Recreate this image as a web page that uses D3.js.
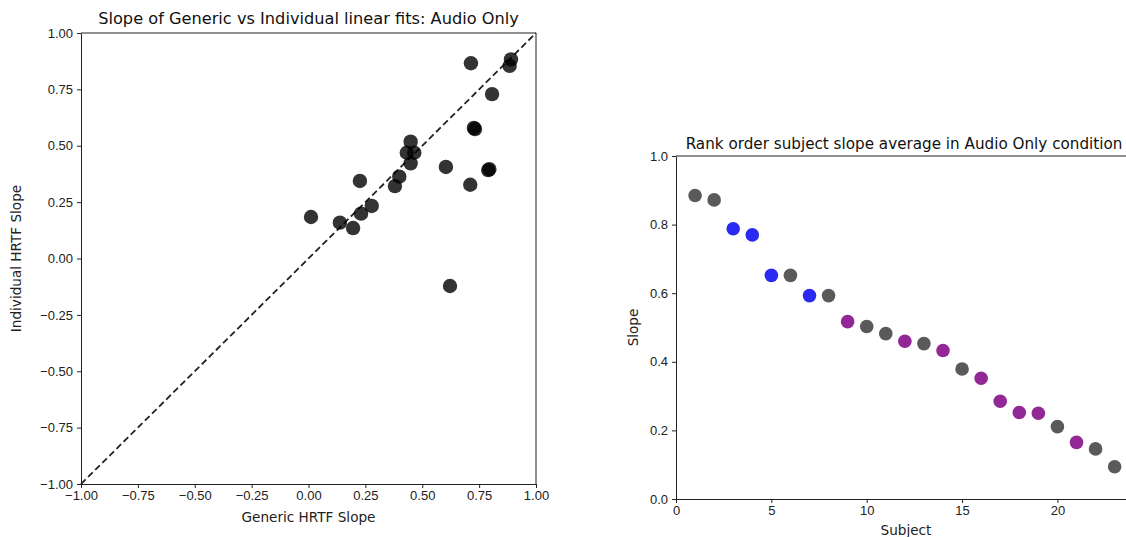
<!DOCTYPE html>
<html>
<head>
<meta charset="utf-8">
<script src="https://cdn.jsdelivr.net/npm/d3@7"></script>
<style>
  body { margin: 0; background: #fff; }
  svg { display: block; font-family: "DejaVu Sans", sans-serif; }
  .tick text { font-size: 13px; fill: #222; }
  .tick line, .domain { stroke: #222; }
</style>
</head>
<body>
<svg id="chart" width="1126" height="537"></svg>
<script>
// left panel: generic vs individual HRTF slope, one point per subject
const genericSlope = [0.714, 0.890, 0.884, 0.807, 0.727, 0.732, 0.449, 0.432, 0.465, 0.449, 0.604, 0.795, 0.790, 0.711, 0.226, 0.399, 0.380, 0.278, 0.231, 0.138, 0.196, 0.011, 0.622]
const individualSlope = [0.866, 0.883, 0.854, 0.729, 0.579, 0.574, 0.518, 0.469, 0.469, 0.422, 0.406, 0.396, 0.392, 0.327, 0.344, 0.363, 0.321, 0.233, 0.199, 0.159, 0.135, 0.184, -0.122]
const leftTicks = [-1, -0.75, -0.5, -0.25, 0, 0.25, 0.5, 0.75, 1]

// right panel: rank-ordered subject slope averages
const subjects = d3.range(1, 24)
const slopeAvg = [0.885, 0.872, 0.788, 0.770, 0.652, 0.652, 0.593, 0.593, 0.517, 0.503, 0.482, 0.460, 0.453, 0.433, 0.379, 0.352, 0.285, 0.252, 0.250, 0.211, 0.165, 0.146, 0.094]
const subjectGroup = ['gray', 'gray', 'blue', 'blue', 'blue', 'gray', 'blue', 'gray', 'purple', 'gray', 'gray', 'purple', 'gray', 'purple', 'gray', 'purple', 'purple', 'purple', 'purple', 'gray', 'purple', 'gray', 'gray']
const rightXTicks = [0, 5, 10, 15, 20]
const rightYTicks = [0, 0.2, 0.4, 0.6, 0.8, 1.0]

const groupColor = { gray: '#5a5a5a', blue: '#2a2af2', purple: '#922896' }
const minus = s => s.replace('-', '\u2212')

const svg = d3.select('#chart')

// ---------- left scatter ----------
const x1 = d3.scaleLinear().domain([-1, 1]).range([81, 536])
const y1 = d3.scaleLinear().domain([-1, 1]).range([484, 33])

const fmt2 = d => minus(d3.format('.2f')(d))

svg.append('g')
    .attr('transform', `translate(0,${y1(-1)})`)
    .call(d3.axisBottom(x1).tickValues(leftTicks).tickFormat(fmt2).tickSize(4).tickSizeOuter(0).tickPadding(3))
svg.append('g')
    .attr('transform', `translate(${x1(-1)},0)`)
    .call(d3.axisLeft(y1).tickValues(leftTicks).tickFormat(fmt2).tickSize(4).tickSizeOuter(0).tickPadding(4))

// top and right spines
svg.append('line').attr('x1', x1(-1)).attr('x2', x1(1)).attr('y1', y1(1)).attr('y2', y1(1)).attr('stroke', '#222')
svg.append('line').attr('x1', x1(1)).attr('x2', x1(1)).attr('y1', y1(1)).attr('y2', y1(-1)).attr('stroke', '#222')

// identity line
svg.append('line')
    .attr('x1', x1(-1)).attr('y1', y1(-1))
    .attr('x2', x1(1)).attr('y2', y1(1))
    .attr('stroke', '#222')
    .attr('stroke-width', 1.8)
    .attr('stroke-dasharray', '6.5,3.5')

svg.append('g').selectAll('circle')
    .data(genericSlope)
    .join('circle')
    .attr('cx', d => x1(d))
    .attr('cy', (d, i) => y1(individualSlope[i]))
    .attr('r', 7.2)
    .attr('fill', '#000')
    .attr('fill-opacity', 0.8)

svg.append('text')
    .attr('x', (x1(-1) + x1(1)) / 2).attr('y', 24)
    .attr('text-anchor', 'middle').attr('font-size', 16.2).attr('fill', '#111')
    .text('Slope of Generic vs Individual linear fits: Audio Only')
svg.append('text')
    .attr('x', (x1(-1) + x1(1)) / 2).attr('y', 522)
    .attr('text-anchor', 'middle').attr('font-size', 13.6).attr('fill', '#222')
    .text('Generic HRTF Slope')
svg.append('text')
    .attr('transform', `translate(21,${(y1(-1) + y1(1)) / 2}) rotate(-90)`)
    .attr('text-anchor', 'middle').attr('font-size', 13.6).attr('fill', '#222')
    .text('Individual HRTF Slope')

// ---------- right rank plot ----------
const xMax = 24.12
const x2 = d3.scaleLinear().domain([0, xMax]).range([676, 1136])
const y2 = d3.scaleLinear().domain([0, 1]).range([499, 156])

svg.append('g')
    .attr('transform', `translate(0,${y2(0)})`)
    .call(d3.axisBottom(x2).tickValues(rightXTicks).tickFormat(d3.format('d')).tickSize(4).tickSizeOuter(0).tickPadding(3))
svg.append('g')
    .attr('transform', `translate(${x2(0)},0)`)
    .call(d3.axisLeft(y2).tickValues(rightYTicks).tickFormat(d3.format('.1f')).tickSize(4).tickSizeOuter(0).tickPadding(4))
svg.append('line').attr('x1', x2(0)).attr('x2', x2(xMax)).attr('y1', y2(1)).attr('y2', y2(1)).attr('stroke', '#222')

svg.append('g').selectAll('circle')
    .data(slopeAvg)
    .join('circle')
    .attr('cx', (d, i) => x2(subjects[i]))
    .attr('cy', d => y2(d))
    .attr('r', 6.8)
    .attr('fill', (d, i) => groupColor[subjectGroup[i]])

svg.append('text')
    .attr('x', 904).attr('y', 149)
    .attr('text-anchor', 'middle').attr('font-size', 15.2).attr('fill', '#111')
    .text('Rank order subject slope average in Audio Only condition')
svg.append('text')
    .attr('x', (x2(0) + x2(xMax)) / 2).attr('y', 535)
    .attr('text-anchor', 'middle').attr('font-size', 13.6).attr('fill', '#222')
    .text('Subject')
svg.append('text')
    .attr('transform', `translate(638,${(y2(0) + y2(1)) / 2}) rotate(-90)`)
    .attr('text-anchor', 'middle').attr('font-size', 13.6).attr('fill', '#222')
    .text('Slope')
</script>
</body>
</html>
